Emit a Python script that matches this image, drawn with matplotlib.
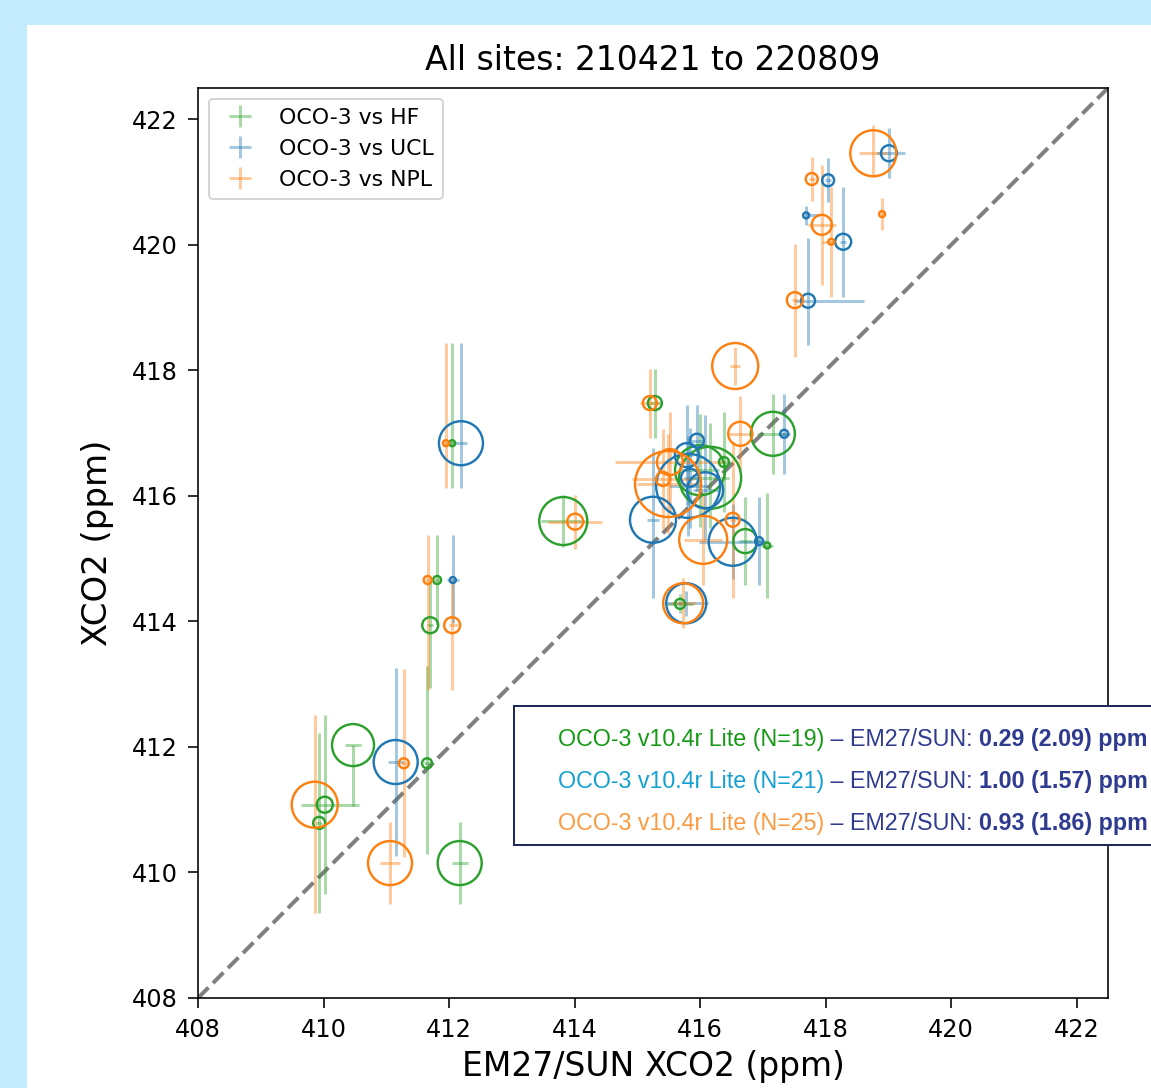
import numpy as np
import matplotlib
matplotlib.use("Agg")
import matplotlib.pyplot as plt
from matplotlib.patches import Rectangle
from matplotlib.text import Annotation

# ---------------- data ----------------
title = "All sites: 210421 to 220809"
xlabel = "EM27/SUN XCO2 (ppm)"
ylabel = "XCO2 (ppm)"
ticks = [408, 410, 412, 414, 416, 418, 420, 422]

# OCO-3 vs HF (green)
hf_x   = [417.16, 412.05, 413.82, 411.70, 411.81, 410.47, 410.02, 409.93, 411.65, 412.17, 416.72, 417.07, 415.68, 415.28, 416.16, 416.00, 416.38]
hf_y   = [416.99, 416.84, 415.60, 413.94, 414.66, 412.03, 411.08, 410.79, 411.74, 410.15, 415.28, 415.21, 414.28, 417.48, 416.29, 416.41, 416.54]
hf_xlo = [0.25, 0.05, 0.35, 0.05, 0.05, 0.13, 0.38, 0.05, 0.05, 0.13, 0.10, 0.10, 0.20, 0.10, 0.30, 0.30, 0.10]
hf_xhi = [0.25, 0.05, 0.35, 0.05, 0.05, 0.13, 0.54, 0.05, 0.05, 0.13, 0.10, 0.10, 0.20, 0.10, 0.30, 0.30, 0.10]
hf_ylo = [0.64, 0.72, 0.41, 1.00, 0.72, 0.97, 1.43, 1.43, 1.45, 0.65, 0.70, 0.84, 0.15, 0.55, 0.80, 0.90, 0.80]
hf_yhi = [0.64, 1.59, 0.41, 0.70, 0.72, 0.00, 1.43, 1.43, 1.55, 0.65, 0.70, 0.84, 0.15, 0.55, 0.88, 0.90, 0.80]
hf_n   = [44, 6, 48, 16, 8, 42, 16, 12, 10, 44, 24, 6, 10, 14, 62, 50, 10]

# OCO-3 vs UCL (blue)
ucl_x   = [419.01, 418.04, 417.69, 418.28, 417.72, 412.19, 417.34, 412.06, 411.15, 415.25, 416.52, 416.94, 415.78, 415.95, 415.79, 415.81, 416.08, 415.84]
ucl_y   = [421.46, 421.03, 420.47, 420.05, 419.11, 416.84, 416.99, 414.66, 411.76, 415.62, 415.27, 415.28, 414.29, 416.88, 416.65, 416.16, 416.09, 416.29]
ucl_xlo = [0.20, 0.05, 0.02, 0.05, 0.20, 0.10, 0.10, 0.10, 0.12, 0.10, 0.54, 0.10, 0.35, 0.10, 0.10, 0.30, 0.20, 0.10]
ucl_xhi = [0.25, 0.05, 0.22, 0.05, 0.90, 0.10, 0.10, 0.10, 0.12, 0.10, 0.54, 0.10, 0.35, 0.10, 0.10, 0.30, 0.20, 0.10]
ucl_ylo = [0.40, 0.35, 0.15, 0.88, 0.70, 0.72, 0.64, 0.68, 1.50, 1.24, 0.60, 0.70, 0.20, 0.80, 0.80, 0.80, 0.80, 0.80]
ucl_yhi = [0.40, 0.35, 0.15, 0.88, 1.00, 1.59, 0.64, 0.72, 1.50, 1.15, 0.60, 0.70, 0.20, 0.57, 0.80, 0.80, 1.20, 0.80]
ucl_n   = [16, 12, 6, 16, 14, 44, 8, 6, 44, 46, 48, 8, 40, 14, 24, 64, 36, 18]

# OCO-3 vs NPL (orange)
npl_x   = [418.76, 417.78, 418.90, 417.94, 418.09, 417.51, 416.56, 416.64, 415.49, 415.52, 415.41, 416.05, 416.52, 415.73, 414.01, 411.95, 411.66, 412.05, 409.86, 411.28, 411.06, 415.20]
npl_y   = [421.46, 421.05, 420.49, 420.32, 420.05, 419.12, 418.07, 416.99, 416.19, 416.54, 416.27, 415.30, 415.62, 414.29, 415.59, 416.84, 414.66, 413.94, 411.08, 411.74, 410.15, 417.48]
npl_xlo = [0.22, 0.05, 0.02, 0.22, 0.15, 0.05, 0.08, 0.20, 0.50, 0.88, 0.50, 0.30, 0.05, 0.20, 0.43, 0.05, 0.05, 0.05, 0.00, 0.05, 0.16, 0.15]
npl_xhi = [0.22, 0.05, 0.02, 0.22, 0.05, 0.05, 0.08, 0.20, 0.50, 0.88, 0.50, 0.30, 0.05, 0.20, 0.43, 0.05, 0.05, 0.10, 0.00, 0.05, 0.16, 0.15]
npl_ylo = [0.38, 0.35, 0.26, 0.96, 0.88, 0.90, 0.30, 0.60, 0.80, 0.80, 0.80, 0.72, 1.25, 0.40, 0.43, 0.72, 1.75, 1.04, 1.73, 1.50, 0.65, 0.55]
npl_yhi = [0.45, 0.35, 0.26, 0.96, 0.88, 0.90, 0.30, 0.60, 0.80, 0.80, 0.80, 0.72, 1.25, 0.40, 0.43, 1.59, 0.72, 0.72, 1.43, 1.50, 0.65, 0.55]
npl_n   = [46, 12, 6, 20, 6, 16, 46, 24, 66, 26, 14, 48, 14, 40, 16, 6, 8, 16, 46, 10, 44, 14]

series_labels = ["OCO-3 vs HF", "OCO-3 vs UCL", "OCO-3 vs NPL"]
series_colors = ["#2ca02c", "#1f77b4", "#ff7f0e"]

stats_lines = [
    ("OCO-3 v10.4r Lite (N=19)", "0.29 (2.09) ppm", "#159a15"),
    ("OCO-3 v10.4r Lite (N=21)", "1.00 (1.57) ppm", "#14a0d2"),
    ("OCO-3 v10.4r Lite (N=25)", "0.93 (1.86) ppm", "#fb9a40"),
]
stats_mid = " \u2013 EM27/SUN: "

# ---------------- figure ----------------
DPI = 144
W, H = 1151, 1088
fig = plt.figure(figsize=(W / DPI, H / DPI), dpi=DPI)
fig.patch.set_facecolor("#c4ecfe")
fig.add_artist(Rectangle((27 / W, 0), 1, 1 - 25 / H, transform=fig.transFigure,
                         facecolor="white", edgecolor="none", zorder=-10))

ax = fig.add_axes([198 / W, 90 / H, 910 / W, 910 / H])

lims = (408, 422.5)
ax.plot(lims, lims, ls="--", color="gray", lw=2, zorder=1)

data = [
    (hf_x, hf_y, hf_xlo, hf_xhi, hf_ylo, hf_yhi, hf_n),
    (ucl_x, ucl_y, ucl_xlo, ucl_xhi, ucl_ylo, ucl_yhi, ucl_n),
    (npl_x, npl_y, npl_xlo, npl_xhi, npl_ylo, npl_yhi, npl_n),
]
for (x, y, xlo, xhi, ylo, yhi, n), lab, col in zip(data, series_labels, series_colors):
    ax.errorbar(x, y, xerr=[xlo, xhi], yerr=[ylo, yhi], fmt="none", ecolor=col,
                alpha=0.4, elinewidth=1.5, capsize=0, label=lab, zorder=2)
    d = np.array(n, dtype=float) / 2.0
    ax.scatter(x, y, s=d ** 2, facecolors="none", edgecolors=col, linewidths=1.2, zorder=3)

ax.set_xlim(*lims)
ax.set_ylim(*lims)
ax.set_xticks(ticks)
ax.set_yticks(ticks)
ax.tick_params(labelsize=12, length=5, pad=5)
ax.set_xlabel(xlabel, fontsize=16.5)
ax.set_ylabel(ylabel, fontsize=17, labelpad=9)
ax.set_title(title, fontsize=16.5, pad=9)
ax.legend(loc="upper left", fontsize=11)

# ---------------- stats box ----------------
fig.add_artist(Rectangle((514 / W, (H - 845) / H), (1300 - 514) / W, (845 - 706) / H,
                         transform=fig.transFigure, facecolor="white",
                         edgecolor="#1f2a5a", lw=1.0, zorder=5))
navy = "#2e3b8f"
fs = 11.6
bottoms = [751, 793, 835]
for (lead, val, col), yb in zip(stats_lines, bottoms):
    t = fig.text(558 / W, 1 - yb / H, lead, color=col, fontsize=fs,
                 family="Liberation Sans", va="bottom", ha="left", zorder=6)
    a1 = Annotation(stats_mid, xy=(1, 0), xycoords=t, va="bottom", ha="left",
                    color=navy, fontsize=fs, family="Liberation Sans", zorder=6)
    fig.add_artist(a1)
    a2 = Annotation(val, xy=(1, 0), xycoords=a1, va="bottom", ha="left",
                    color=navy, fontsize=fs, family="Liberation Sans",
                    fontweight="bold", zorder=6)
    fig.add_artist(a2)

fig.savefig("out.png", dpi=DPI)
